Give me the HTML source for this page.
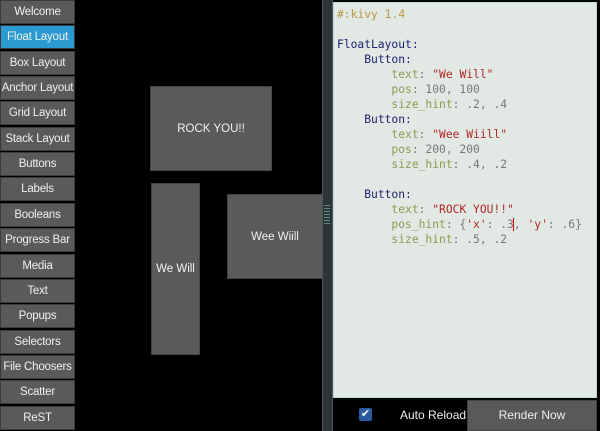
<!DOCTYPE html>
<html><head><meta charset="utf-8"><style>
*{margin:0;padding:0;box-sizing:border-box}
body{width:600px;height:431px;background:#000;position:relative;overflow:hidden;font-family:"Liberation Sans",sans-serif}
.sb{position:absolute;left:0;width:75px;height:24px;background:#5a5a5a;border:1px solid #3a3a3a;color:#f0f0f0;font-size:11.5px;text-align:center;line-height:22px;white-space:nowrap;letter-spacing:-0.2px}
.sb.a{background:#2a9ad0}
.bt{position:absolute;background:#5a5a5a;border:1px solid #444;color:#f2f2f2;font-size:11.5px;display:flex;align-items:center;justify-content:center}
.code{position:absolute;left:333px;top:2px;width:264px;height:396px;background:#e2e8e4;border:1px solid #b8d8e0}
pre{position:absolute;left:3px;top:4px;font-family:"DejaVu Sans Mono","Liberation Mono",monospace;font-size:11.3px;line-height:15px;color:#777}
.c{color:#b89a40}.k{color:#202070}.p{color:#8a9a50}.s{color:#b02828}
</style></head><body>
<div class="sb" style="top:0">Welcome</div>
<div class="sb a" style="top:25.35px">Float Layout</div>
<div class="sb" style="top:50.7px">Box Layout</div>
<div class="sb" style="top:76.05px">Anchor Layout</div>
<div class="sb" style="top:101.4px">Grid Layout</div>
<div class="sb" style="top:126.75px">Stack Layout</div>
<div class="sb" style="top:152.1px">Buttons</div>
<div class="sb" style="top:177.45px">Labels</div>
<div class="sb" style="top:202.8px">Booleans</div>
<div class="sb" style="top:228.15px">Progress Bar</div>
<div class="sb" style="top:253.5px">Media</div>
<div class="sb" style="top:278.85px">Text</div>
<div class="sb" style="top:304.2px">Popups</div>
<div class="sb" style="top:329.55px">Selectors</div>
<div class="sb" style="top:354.9px">File Choosers</div>
<div class="sb" style="top:380.25px">Scatter</div>
<div class="sb" style="top:405.6px">ReST</div>

<div class="bt" style="left:150px;top:86px;width:122px;height:85px">ROCK YOU!!</div>
<div class="bt" style="left:151px;top:183px;width:49px;height:172px">We Will</div>
<div class="bt" style="left:227px;top:194px;width:96px;height:85px">Wee Wiill</div>

<div style="position:absolute;left:322px;top:0;width:11px;height:431px;background:#2c3436;border-left:1px solid #4a5a5e;border-right:1px solid #556"></div>
<div style="position:absolute;left:324px;top:205px;width:6px;height:20px;background:repeating-linear-gradient(#5a8a90 0 1px,#2c3436 1px 3px)"></div>

<div class="code"><pre><span class="c">#:kivy 1.4</span>

<span class="k">FloatLayout:</span>
    <span class="k">Button:</span>
        <span class="p">text</span>: <span class="s">"We Will"</span>
        <span class="p">pos</span>: 100, 100
        <span class="p">size_hint</span>: .2, .4
    <span class="k">Button:</span>
        <span class="p">text</span>: <span class="s">"Wee Wiill"</span>
        <span class="p">pos</span>: 200, 200
        <span class="p">size_hint</span>: .4, .2

    <span class="k">Button:</span>
        <span class="p">text</span>: <span class="s">"ROCK YOU!!"</span>
        <span class="p">pos_hint</span>: {<span class="s">'x'</span>: .3<span style="border-left:1px solid #d00;margin-left:-1px"></span>, <span class="s">'y'</span>: .6}
        <span class="p">size_hint</span>: .5, .2</pre></div>

<div style="position:absolute;left:333px;top:400px;width:134px;height:31px;background:#000"></div>
<div style="position:absolute;left:359px;top:408px;width:13px;height:13px;background:#2a5aa0;border-radius:2px;color:#fff;font-size:11px;line-height:13px;text-align:center">✔</div>
<div style="position:absolute;left:400px;top:408px;color:#eee;font-size:12px">Auto Reload</div>
<div style="position:absolute;left:467px;top:400px;width:130px;height:31px;background:#595959;border:1px solid #444;color:#eee;font-size:12px;text-align:center;line-height:29px">Render Now</div>
</body></html>
